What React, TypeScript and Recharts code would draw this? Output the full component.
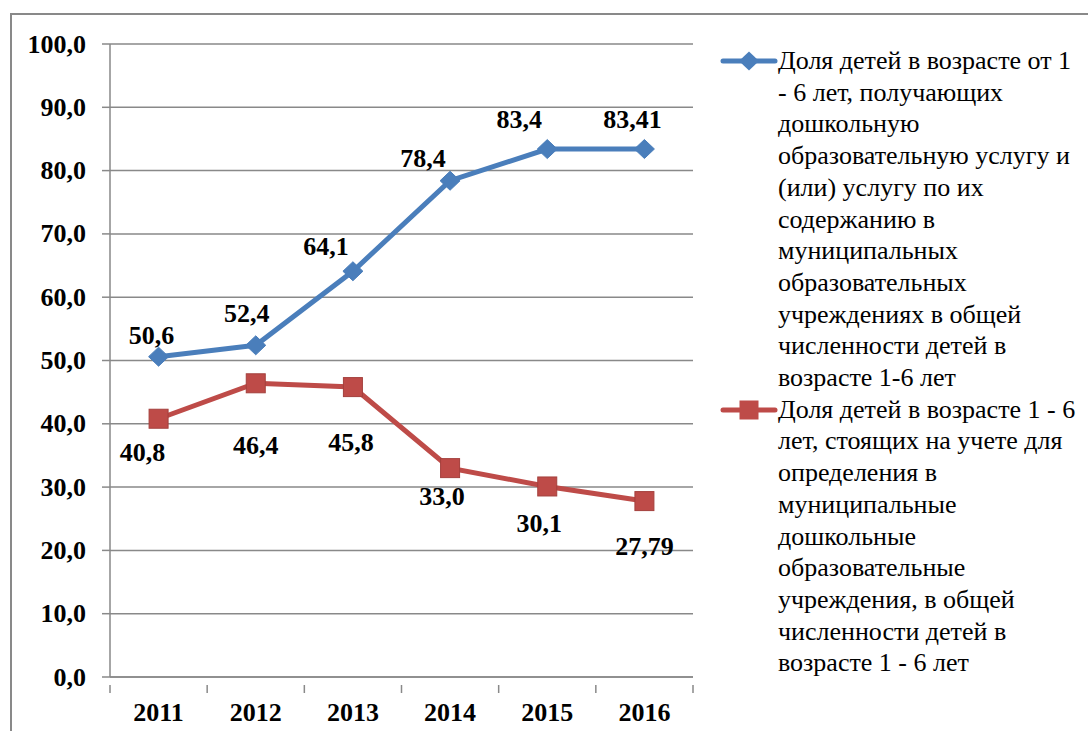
import React from 'react';
import { LineChart, Line, XAxis, YAxis, CartesianGrid, Legend, LabelList } from 'recharts';

const years = ['2011', '2012', '2013', '2014', '2015', '2016'];
const enrolled = [50.6, 52.4, 64.1, 78.4, 83.4, 83.41];
const waiting = [40.8, 46.4, 45.8, 33.0, 30.1, 27.79];
const yTicks = [0, 10, 20, 30, 40, 50, 60, 70, 80, 90, 100];

const enrolledName =
  'Доля детей в возрасте от 1 - 6 лет, получающих дошкольную образовательную услугу и (или) услугу по их содержанию в муниципальных образовательных учреждениях в общей численности детей в возрасте 1-6 лет';
const waitingName =
  'Доля детей в возрасте 1 - 6 лет, стоящих на учете для определения в муниципальные дошкольные образовательные учреждения, в общей численности детей в возрасте 1 - 6 лет';

// how the legend text wraps in the original
const enrolledLines = [
  'Доля детей в возрасте от 1',
  '- 6 лет, получающих',
  'дошкольную',
  'образовательную услугу и',
  '(или) услугу по их',
  'содержанию в',
  'муниципальных',
  'образовательных',
  'учреждениях в общей',
  'численности детей в',
  'возрасте 1-6 лет',
];
const waitingLines = [
  'Доля детей в возрасте 1 - 6',
  'лет, стоящих на учете для',
  'определения в',
  'муниципальные',
  'дошкольные',
  'образовательные',
  'учреждения, в общей',
  'численности детей в',
  'возрасте 1 - 6 лет',
];

const data = years.map((year, i) => ({ year, enrolled: enrolled[i], waiting: waiting[i] }));

const BLUE = '#4A7EBB';
const RED = '#BE4B48';
const GRID = '#898989';
const SERIF = '"Liberation Serif", Tinos, "Times New Roman"';

// label offsets (dx, dy) from each point, as the labels sit in the original
const blueOffsets = [[-7, -21], [-9, -32], [-27, -25], [-27, -22], [-28, -30], [-12, -30]];
const redOffsets = [[-16, 34], [0, 62], [-2, 55], [-8, 28], [-8, 37], [0, 45]];

const fmt = (v: number) => {
  const oneDec = Math.abs(Math.round(v * 10) - v * 10) < 1e-9;
  return v.toFixed(oneDec ? 1 : 2).replace('.', ',');
};

const boldText = { fontFamily: SERIF, fontWeight: 'bold', fontSize: 26 } as const;

const Diamond = (props: any) => {
  const { cx, cy } = props;
  if (cx == null || cy == null) return null;
  return (
    <path
      d={`M${cx - 10},${cy} L${cx},${cy - 9.5} L${cx + 10},${cy} L${cx},${cy + 9.5} Z`}
      fill={BLUE}
      stroke={BLUE}
      strokeWidth={1}
    />
  );
};

const Square = (props: any) => {
  const { cx, cy } = props;
  if (cx == null || cy == null) return null;
  return <rect x={cx - 9.5} y={cy - 9.5} width={19} height={19} fill={RED} stroke="#A4403D" strokeWidth={1} />;
};

const makeLabel = (offsets: number[][]) => (props: any) => {
  const { x, y, value, index } = props;
  const [dx, dy] = offsets[index] || [0, 0];
  return (
    <text x={x + dx} y={y + dy} textAnchor="middle" dominantBaseline="central" style={boldText} fill="#000">
      {fmt(value)}
    </text>
  );
};

const BAND = (1088 - 110 - 395) / years.length;

const XTick = (props: any) => {
  const { x, y, payload, index } = props;
  const left = x - BAND / 2;
  return (
    <g>
      <line x1={left} y1={y} x2={left} y2={y + 8} stroke={GRID} strokeWidth={1.5} />
      {index === years.length - 1 && (
        <line x1={x + BAND / 2} y1={y} x2={x + BAND / 2} y2={y + 8} stroke={GRID} strokeWidth={1.5} />
      )}
      <text x={x} y={y + 36} textAnchor="middle" style={boldText} fill="#000">
        {payload.value}
      </text>
    </g>
  );
};

const YTick = (props: any) => {
  const { x, y, payload } = props;
  return (
    <text x={x} y={y} textAnchor="end" dominantBaseline="central" style={boldText} fill="#000">
      {fmt(payload.value)}
    </text>
  );
};

const LegendIcon = ({ color, square }: { color: string; square: boolean }) => (
  <svg width={58} height={22} style={{ position: 'absolute', left: 0, top: 5 }}>
    <line x1={3} y1={11} x2={55} y2={11} stroke={color} strokeWidth={5} strokeLinecap="round" />
    {square ? (
      <rect x={19.5} y={1.5} width={19} height={19} fill={color} />
    ) : (
      <path d="M19,11 L29,1.5 L39,11 L29,20.5 Z" fill={color} />
    )}
  </svg>
);

const renderLegend = () => {
  const entries = [
    { lines: enrolledLines, color: BLUE, square: false },
    { lines: waitingLines, color: RED, square: true },
  ];
  return (
    <div style={{ fontFamily: SERIF, fontSize: 26, lineHeight: '31.7px', color: '#000' }}>
      {entries.map((e, i) => (
        <div key={i} style={{ position: 'relative', paddingLeft: 58 }}>
          <LegendIcon color={e.color} square={e.square} />
          {e.lines.map((l, j) => (
            <div key={j} style={{ whiteSpace: 'nowrap' }}>
              {l}
            </div>
          ))}
        </div>
      ))}
    </div>
  );
};

export default function App() {
  return (
    <div style={{ position: 'absolute', left: 0, top: 0, width: 1088, height: 731, background: '#fff', overflow: 'hidden' }}>
      <div
        style={{
          position: 'absolute',
          left: 10,
          top: 13,
          width: 1100,
          height: 740,
          borderLeft: `2px solid ${GRID}`,
          borderTop: `2px solid ${GRID}`,
        }}
      />
      <LineChart width={1088} height={731} data={data} margin={{ top: 44, right: 395, bottom: 0, left: 0 }}>
        <CartesianGrid vertical={false} stroke={GRID} strokeWidth={1.5} />
        <XAxis
          dataKey="year"
          height={54}
          padding={{ left: BAND / 2, right: BAND / 2 }}
          axisLine={{ stroke: GRID, strokeWidth: 1.5 }}
          tickLine={false}
          tick={<XTick />}
          interval={0}
        />
        <YAxis
          width={110}
          domain={[0, 100]}
          ticks={yTicks}
          interval={0}
          axisLine={{ stroke: GRID, strokeWidth: 1.5 }}
          tickLine={{ stroke: GRID, strokeWidth: 1.5 }}
          tickSize={8}
          tickMargin={16}
          tick={<YTick />}
        />
        <Legend
          layout="horizontal"
          verticalAlign="middle"
          align="center"
          content={renderLegend}
          wrapperStyle={{ left: 720, top: 45, width: 368 }}
        />
        <Line
          name={enrolledName}
          dataKey="enrolled"
          stroke={BLUE}
          strokeWidth={5}
          dot={<Diamond />}
          activeDot={false}
          isAnimationActive={false}
        >
          <LabelList dataKey="enrolled" content={makeLabel(blueOffsets)} />
        </Line>
        <Line
          name={waitingName}
          dataKey="waiting"
          stroke={RED}
          strokeWidth={5}
          dot={<Square />}
          activeDot={false}
          isAnimationActive={false}
        >
          <LabelList dataKey="waiting" content={makeLabel(redOffsets)} />
        </Line>
      </LineChart>
    </div>
  );
}
